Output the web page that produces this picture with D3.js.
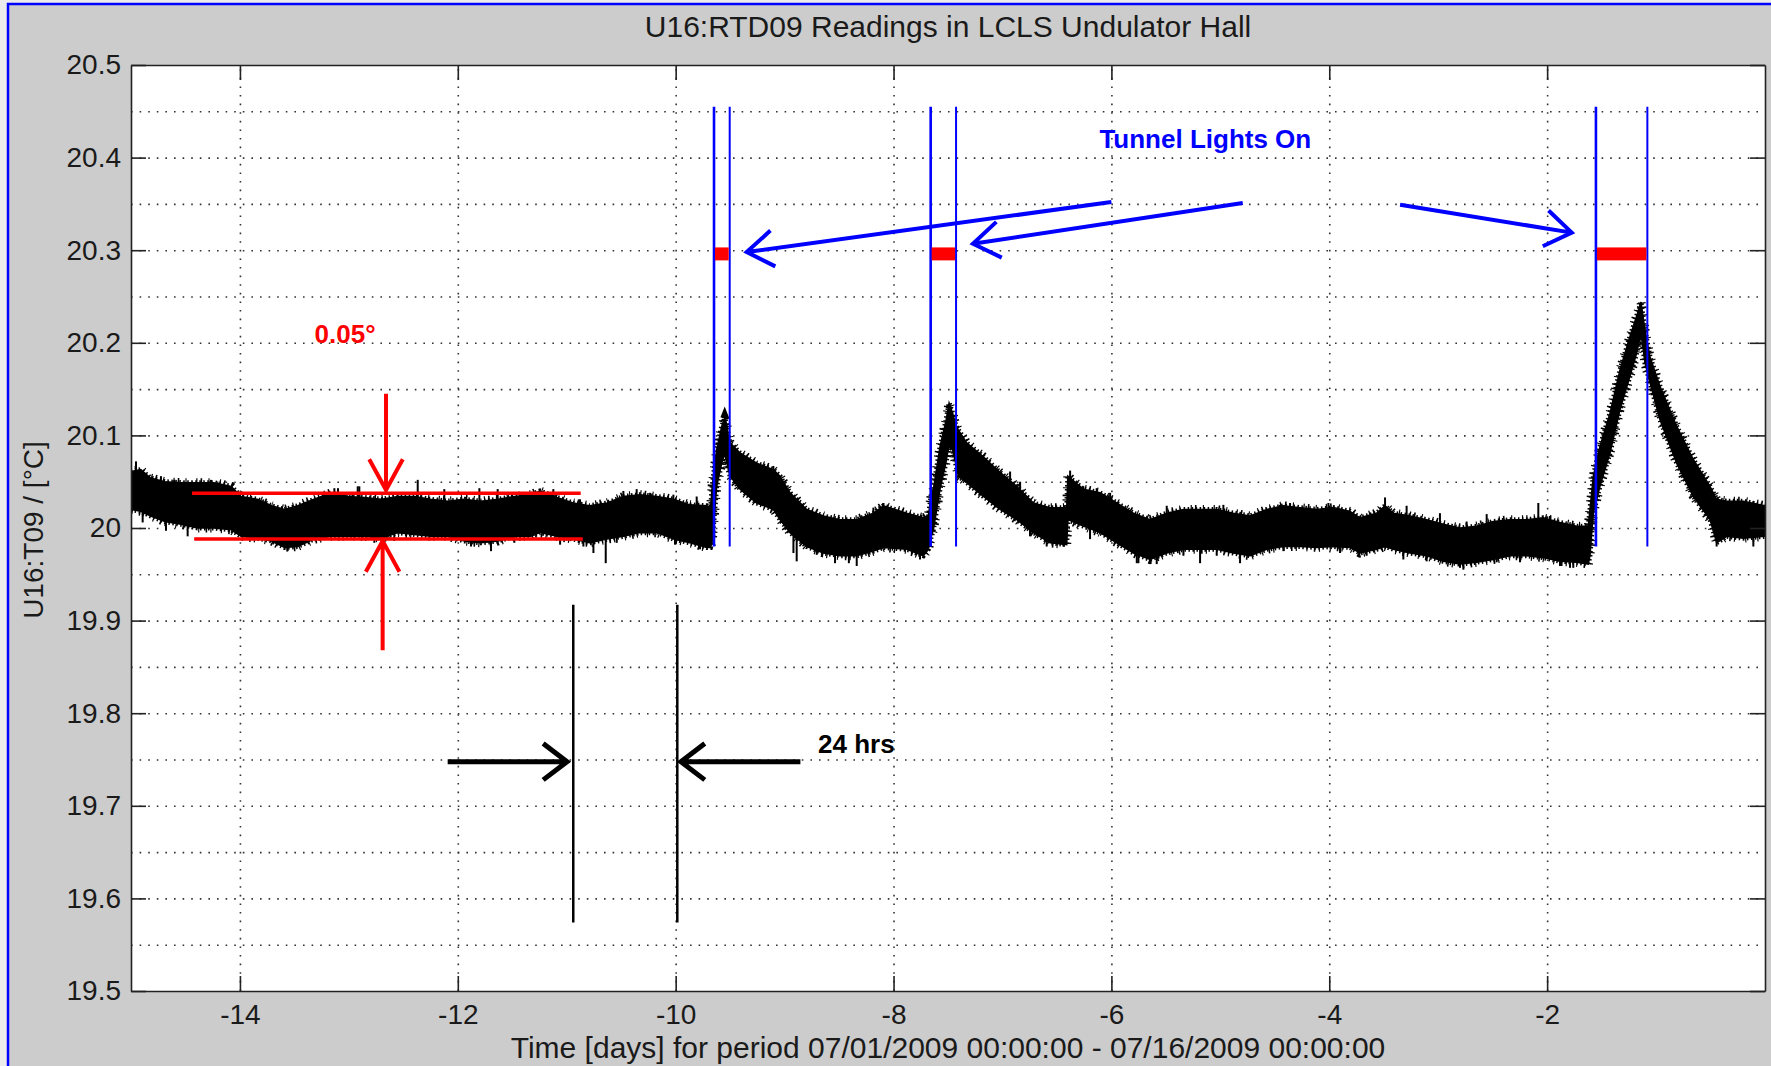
<!DOCTYPE html>
<html>
<head>
<meta charset="utf-8">
<script src="https://cdn.jsdelivr.net/npm/d3@7"></script>
<style>
  body { margin: 0; background: #ececec; }
  text { font-family: "Liberation Sans", Arial, sans-serif; }
</style>
</head>
<body>
<div id="chart"></div>
<script>
// axis ticks
var xTickValues = [-14, -12, -10, -8, -6, -4, -2];
var xTickLabels = ['-14', '-12', '-10', '-8', '-6', '-4', '-2'];
var yTickValues = [19.5, 19.6, 19.7, 19.8, 19.9, 20, 20.1, 20.2, 20.3, 20.4, 20.5];
var yTickLabels = ['19.5', '19.6', '19.7', '19.8', '19.9', '20', '20.1', '20.2', '20.3', '20.4', '20.5'];
var yGridValues = [19.55, 19.6, 19.65, 19.7, 19.75, 19.8, 19.85, 19.9, 19.95, 20, 20.05,
                   20.1, 20.15, 20.2, 20.25, 20.3, 20.35, 20.4, 20.45];

// U16:T09 trace, read as the top and bottom edge of the noisy band
var traceDays = [-15.0, -14.91, -14.82, -14.69, -14.54, -14.39, -14.24, -14.08, -13.99, -13.84,
  -13.71, -13.59, -13.47, -13.32, -13.16, -13.01, -12.86, -12.70, -12.55, -12.40,
  -12.25, -12.09, -11.94, -11.79, -11.63, -11.48, -11.33, -11.245, -11.09, -10.94,
  -10.79, -10.63, -10.48, -10.33, -10.17, -10.02, -9.87, -9.715, -9.68, -9.665,
  -9.623, -9.577, -9.55, -9.53, -9.515, -9.50, -9.409, -9.256, -9.103, -9.042,
  -8.95, -8.797, -8.644, -8.491, -8.338, -8.185, -8.093, -7.879, -7.726, -7.68,
  -7.655, -7.634, -7.573, -7.52, -7.49, -7.46, -7.43, -7.405, -7.328, -7.175,
  -7.022, -6.869, -6.716, -6.563, -6.41, -6.40, -6.257, -6.104, -5.951, -5.798,
  -5.645, -5.492, -5.339, -5.186, -5.033, -4.88, -4.727, -4.574, -4.421, -4.268,
  -4.115, -3.962, -3.809, -3.718, -3.565, -3.488, -3.412, -3.259, -3.106, -2.953,
  -2.80, -2.647, -2.494, -2.341, -2.188, -2.035, -1.882, -1.729, -1.622, -1.607,
  -1.576, -1.515, -1.423, -1.331, -1.239, -1.178, -1.138, -1.102, -1.056, -0.964,
  -0.811, -0.658, -0.505, -0.444, -0.352, -0.199, 0.0];
var traceTop = [20.061, 20.063, 20.054, 20.050, 20.049, 20.049, 20.049, 20.045, 20.034, 20.031,
  20.024, 20.020, 20.024, 20.031, 20.038, 20.034, 20.033, 20.031, 20.034, 20.034,
  20.031, 20.029, 20.031, 20.029, 20.031, 20.034, 20.036, 20.040, 20.033, 20.027,
  20.024, 20.027, 20.034, 20.036, 20.034, 20.031, 20.025, 20.024, 20.020, 20.045,
  20.085, 20.110, 20.118, 20.112, 20.098, 20.092, 20.081, 20.070, 20.063, 20.056,
  20.038, 20.020, 20.013, 20.009, 20.009, 20.016, 20.024, 20.016, 20.011, 20.013,
  20.035, 20.042, 20.088, 20.115, 20.135, 20.125, 20.112, 20.106, 20.092, 20.077,
  20.060, 20.045, 20.027, 20.022, 20.022, 20.056, 20.042, 20.038, 20.027, 20.016,
  20.009, 20.016, 20.020, 20.020, 20.020, 20.016, 20.013, 20.020, 20.024, 20.022,
  20.020, 20.022, 20.018, 20.011, 20.016, 20.024, 20.016, 20.013, 20.009, 20.004,
  20.000, 20.002, 20.007, 20.009, 20.009, 20.011, 20.006, 20.002, 20.002, 20.020,
  20.056, 20.088, 20.124, 20.171, 20.207, 20.229, 20.244, 20.214, 20.185, 20.153,
  20.110, 20.074, 20.045, 20.031, 20.029, 20.029, 20.024];
var traceBottom = [20.020, 20.018, 20.013, 20.007, 20.004, 20.000, 20.000, 19.998, 19.991, 19.989,
  19.986, 19.979, 19.980, 19.988, 19.991, 19.991, 19.991, 19.989, 19.995, 19.993,
  19.991, 19.991, 19.986, 19.984, 19.986, 19.991, 19.991, 19.995, 19.991, 19.988,
  19.984, 19.988, 19.991, 19.995, 19.995, 19.988, 19.984, 19.979, 19.979, 19.985,
  20.045, 20.070, 20.080, 20.070, 20.062, 20.056, 20.042, 20.027, 20.020, 20.009,
  19.995, 19.980, 19.973, 19.970, 19.970, 19.975, 19.979, 19.977, 19.970, 19.977,
  19.990, 19.998, 20.042, 20.070, 20.090, 20.085, 20.070, 20.056, 20.049, 20.034,
  20.020, 20.009, 19.995, 19.984, 19.982, 20.009, 20.002, 19.995, 19.984, 19.973,
  19.966, 19.973, 19.977, 19.977, 19.977, 19.973, 19.970, 19.977, 19.980, 19.980,
  19.979, 19.980, 19.979, 19.973, 19.977, 19.980, 19.977, 19.973, 19.970, 19.964,
  19.961, 19.963, 19.966, 19.970, 19.970, 19.968, 19.964, 19.963, 19.961, 19.970,
  20.016, 20.045, 20.081, 20.128, 20.164, 20.189, 20.211, 20.178, 20.157, 20.117,
  20.070, 20.034, 20.009, 19.984, 19.991, 19.989, 19.991];

// single noise spikes sticking out of the band
var spikeDays = [-14.954, -14.893, -14.725, -14.679, -14.602, -14.48, -14.266, -13.684, -13.562, -13.133,
  -13.10, -12.919, -12.904, -12.766, -12.583, -12.368, -12.124, -11.879, -11.802, -11.695,
  -11.634, -11.481, -11.389, -11.123, -11.061, -10.878, -10.847, -10.755, -10.642, -10.541,
  -10.48, -10.358, -10.235, -10.021, -10.006, -9.807, -9.776, -9.348, -9.103, -8.919,
  -8.889, -8.736, -8.705, -8.537, -8.41, -8.338, -8.185, -8.093, -7.757, -7.053,
  -6.93, -6.838, -6.747, -6.685, -6.594, -6.441, -6.379, -6.257, -6.196, -6.135,
  -6.012, -5.767, -5.752, -5.645, -5.584, -5.492, -5.339, -5.186, -5.033, -4.972,
  -4.819, -4.452, -4.421, -4.36, -4.008, -3.901, -3.657, -3.488, -3.32, -3.29,
  -3.106, -2.984, -2.8, -2.769, -2.739, -2.555, -2.463, -2.249, -2.188, -2.081,
  -1.974, -1.882, -1.79, -1.76, -0.444, -0.107, -0.107];
var spikeTips = [20.072, 20.006, 20.056, 19.997, 20.052, 19.991, 20.052, 19.984, 19.975, 20.043,
  20.043, 20.045, 20.045, 19.984, 19.986, 20.052, 20.042, 19.980, 20.043, 19.975,
  20.042, 19.984, 20.039, 20.042, 19.982, 20.031, 19.980, 19.973, 19.962, 19.984,
  20.040, 20.042, 20.038, 20.036, 19.982, 20.034, 19.977, 20.074, 20.067, 19.973,
  19.964, 20.016, 19.971, 19.962, 19.962, 19.959, 20.022, 20.027, 19.966, 20.065,
  20.061, 20.050, 19.991, 20.025, 19.980, 19.980, 20.062, 20.045, 19.988, 20.043,
  20.038, 19.962, 19.962, 19.962, 19.961, 20.024, 19.970, 19.962, 19.970, 20.025,
  19.962, 20.025, 19.975, 20.027, 20.027, 19.973, 19.970, 20.033, 19.966, 20.024,
  19.964, 20.016, 19.957, 19.955, 20.007, 20.015, 19.963, 19.963, 20.009, 20.027,
  20.013, 19.959, 19.957, 19.957, 19.980, 20.029, 19.980];

// "Tunnel Lights On" annotations
var lightsOn  = [-9.648, -7.659, -1.552];
var lightsOff = [-9.504, -7.426, -1.080];
var lightsLineRange = [19.98, 20.455];
var lightsBarRange  = [20.289, 20.303];
var lightsArrowFrom = [[-6.0, 20.352], [-4.794, 20.351], [-3.35, 20.349]];
var lightsArrowTo   = [[-9.348, 20.298], [-7.271, 20.307], [-1.774, 20.319]];
var lightsLabel = [-6.11, 20.41];

// 0.05 degree band annotation
var bandLevels = [20.0376, 19.988];
var bandFrom   = [-14.44, -14.42];
var bandTo     = [-10.872, -10.853];
var bandArrowFrom = [[-12.659, 20.145], [-12.69, 19.868]];
var bandArrowTo   = [[-12.659, 20.041], [-12.69, 19.986]];
var bandLabel = [-13.035, 20.200];

// 24 hrs annotation
var dayMarks = [-10.94, -9.985];
var dayMarkRange = [19.574, 19.917];
var dayArrowFrom = [[-12.093, 19.7476], [-8.855, 19.7476]];
var dayArrowTo   = [[-10.997, 19.7476], [-9.952, 19.7476]];
var dayLabel = [-8.693, 19.757];

var W = 1771, H = 1066;
var margin = { top: 65, right: 6, bottom: 74, left: 131 };
var width  = W - margin.left - margin.right;
var height = H - margin.top - margin.bottom - 1;

var svg = d3.select('#chart')
            .append('svg')
            .attr('width', W)
            .attr('height', H)
            .style('display', 'block');

// figure background with the blue frame
svg.append('rect')
   .attr('x', 8).attr('y', 4)
   .attr('width', W).attr('height', H)
   .attr('fill', '#cccccc')
   .attr('stroke', '#0000ff')
   .attr('stroke-width', 2.5);

var g = svg.append('g')
           .attr('transform', 'translate(' + margin.left + ',' + margin.top + ')');

var xScale = d3.scaleLinear().domain([-15, 0]).range([0, width]);
var yScale = d3.scaleLinear().domain([19.5, 20.5]).range([height, 0]);

g.append('rect')
 .attr('width', width).attr('height', height)
 .attr('fill', '#ffffff');

// dotted grid
var xGrid = d3.axisBottom(xScale).tickValues(xTickValues).tickSize(-height).tickFormat('');
var yGrid = d3.axisLeft(yScale).tickValues(yGridValues).tickSize(-width).tickFormat('');

g.append('g').attr('transform', 'translate(0,' + height + ')').call(xGrid)
 .call(function (s) { s.select('.domain').remove(); });
g.append('g').call(yGrid)
 .call(function (s) { s.select('.domain').remove(); });
g.selectAll('.tick line')
 .attr('stroke', '#333')
 .attr('stroke-width', 1.6)
 .attr('stroke-dasharray', '1.6,7');

// trace band
var rows = traceDays.map(function (d, i) { return { x: d, top: traceTop[i], bottom: traceBottom[i] }; });
var band = d3.area()
             .x(function (d) { return xScale(d.x); })
             .y0(function (d) { return yScale(d.bottom); })
             .y1(function (d) { return yScale(d.top); });

var clip = g.append('clipPath').attr('id', 'plotArea');
clip.append('rect').attr('width', width).attr('height', height);

var trace = g.append('g').attr('clip-path', 'url(#plotArea)');

trace.append('path')
     .datum(rows)
     .attr('d', band)
     .attr('fill', '#000')
     .attr('stroke', '#000')
     .attr('stroke-width', 1.5);

// fuzzy edge so the band reads as a noisy trace
trace.append('path')
     .datum(rows)
     .attr('d', band)
     .attr('fill', 'none')
     .attr('stroke', '#000')
     .attr('stroke-width', 5)
     .attr('stroke-dasharray', '1.5,2.5');

trace.append('path')
     .datum(rows)
     .attr('d', band)
     .attr('fill', 'none')
     .attr('stroke', '#000')
     .attr('stroke-width', 9)
     .attr('stroke-dasharray', '1.2,3.1,1.6,6.3,1.1,9.7');

var bisect = d3.bisector(function (d) { return d; }).left;
function bandMid (day)
{
    var i = Math.max(1, Math.min(traceDays.length - 1, bisect(traceDays, day)));
    var t = (day - traceDays[i - 1]) / (traceDays[i] - traceDays[i - 1]);
    var top = traceTop[i - 1] + t * (traceTop[i] - traceTop[i - 1]);
    var bot = traceBottom[i - 1] + t * (traceBottom[i] - traceBottom[i - 1]);
    return (top + bot) / 2;
}

trace.selectAll('.spike')
     .data(spikeDays)
     .enter().append('line')
     .attr('class', 'spike')
     .attr('x1', function (d) { return xScale(d); })
     .attr('x2', function (d) { return xScale(d); })
     .attr('y1', function (d) { return yScale(bandMid(d)); })
     .attr('y2', function (d, i) { return yScale(spikeTips[i]); })
     .attr('stroke', '#000')
     .attr('stroke-width', 2);

// arrow helper: shaft plus open chevron head at the "to" end
function arrowPath (from, to, len, ang)
{
    var x0 = xScale(from[0]), y0 = yScale(from[1]);
    var x1 = xScale(to[0]),   y1 = yScale(to[1]);
    var a  = Math.atan2(y0 - y1, x0 - x1);
    var p1 = [x1 + len * Math.cos(a + ang), y1 + len * Math.sin(a + ang)];
    var p2 = [x1 + len * Math.cos(a - ang), y1 + len * Math.sin(a - ang)];
    return 'M' + x0 + ',' + y0 + 'L' + x1 + ',' + y1 +
           'M' + p1[0] + ',' + p1[1] + 'L' + x1 + ',' + y1 + 'L' + p2[0] + ',' + p2[1];
}

// tunnel lights on
var lightDays = lightsOn.concat(lightsOff);
g.selectAll('.lightLine')
 .data(lightDays)
 .enter().append('line')
 .attr('class', 'lightLine')
 .attr('x1', function (d) { return xScale(d); })
 .attr('x2', function (d) { return xScale(d); })
 .attr('y1', yScale(lightsLineRange[0]))
 .attr('y2', yScale(lightsLineRange[1]))
 .attr('stroke', '#0000ff')
 .attr('stroke-width', function (d, i) { return i < 3 ? 2.6 : 2; });

g.selectAll('.lightBar')
 .data(lightsOn)
 .enter().append('rect')
 .attr('class', 'lightBar')
 .attr('x', function (d) { return xScale(d) + 1; })
 .attr('width', function (d, i) { return xScale(lightsOff[i]) - xScale(d) - 2; })
 .attr('y', yScale(lightsBarRange[1]))
 .attr('height', yScale(lightsBarRange[0]) - yScale(lightsBarRange[1]))
 .attr('fill', '#ff0000');

g.selectAll('.lightArrow')
 .data(lightsArrowFrom)
 .enter().append('path')
 .attr('class', 'lightArrow')
 .attr('d', function (d, i) { return arrowPath(d, lightsArrowTo[i], 32, 0.6); })
 .attr('fill', 'none')
 .attr('stroke', '#0000ff')
 .attr('stroke-width', 4);

g.append('text')
 .attr('x', xScale(lightsLabel[0]))
 .attr('y', yScale(lightsLabel[1]))
 .attr('fill', '#0000ff')
 .style('font-size', '26px')
 .style('font-weight', 'bold')
 .text('Tunnel Lights On');

// 0.05 degree band
g.selectAll('.bandLine')
 .data(bandLevels)
 .enter().append('line')
 .attr('class', 'bandLine')
 .attr('x1', function (d, i) { return xScale(bandFrom[i]); })
 .attr('x2', function (d, i) { return xScale(bandTo[i]); })
 .attr('y1', function (d) { return yScale(d); })
 .attr('y2', function (d) { return yScale(d); })
 .attr('stroke', '#ff0000')
 .attr('stroke-width', 3.5);

g.selectAll('.bandArrow')
 .data(bandArrowFrom)
 .enter().append('path')
 .attr('class', 'bandArrow')
 .attr('d', function (d, i) { return arrowPath(d, bandArrowTo[i], 35, 0.5); })
 .attr('fill', 'none')
 .attr('stroke', '#ff0000')
 .attr('stroke-width', 4);

g.append('text')
 .attr('x', xScale(bandLabel[0]))
 .attr('y', yScale(bandLabel[1]))
 .attr('text-anchor', 'middle')
 .attr('fill', '#ff0000')
 .style('font-size', '26px')
 .style('font-weight', 'bold')
 .text('0.05°');

// 24 hrs
g.selectAll('.dayMark')
 .data(dayMarks)
 .enter().append('line')
 .attr('class', 'dayMark')
 .attr('x1', function (d) { return xScale(d); })
 .attr('x2', function (d) { return xScale(d); })
 .attr('y1', yScale(dayMarkRange[0]))
 .attr('y2', yScale(dayMarkRange[1]))
 .attr('stroke', '#000')
 .attr('stroke-width', 2.5);

g.selectAll('.dayArrow')
 .data(dayArrowFrom)
 .enter().append('path')
 .attr('class', 'dayArrow')
 .attr('d', function (d, i) { return arrowPath(d, dayArrowTo[i], 30, 0.65); })
 .attr('fill', 'none')
 .attr('stroke', '#000')
 .attr('stroke-width', 5);

g.append('text')
 .attr('x', xScale(dayLabel[0]))
 .attr('y', yScale(dayLabel[1]))
 .attr('fill', '#000')
 .style('font-size', '26px')
 .style('font-weight', 'bold')
 .text('24 hrs');

// axes with inward ticks on all four sides
var fmtX = function (d) { return xTickLabels[xTickValues.indexOf(d)]; };
var fmtY = function (d) { return yTickLabels[yTickValues.indexOf(d)]; };

var xAxis  = d3.axisBottom(xScale).tickValues(xTickValues).tickSizeInner(-15).tickSizeOuter(0).tickPadding(13).tickFormat(fmtX);
var xTop   = d3.axisTop(xScale).tickValues(xTickValues).tickSizeInner(-15).tickSizeOuter(0).tickFormat('');
var yAxis  = d3.axisLeft(yScale).tickValues(yTickValues).tickSizeInner(-15).tickSizeOuter(0).tickPadding(10).tickFormat(fmtY);
var yRight = d3.axisRight(yScale).tickValues(yTickValues).tickSizeInner(-15).tickSizeOuter(0).tickFormat('');

var axes = g.append('g').attr('class', 'axes');
axes.append('g').attr('transform', 'translate(0,' + height + ')').call(xAxis);
axes.append('g').call(xTop);
axes.append('g').call(yAxis);
axes.append('g').attr('transform', 'translate(' + width + ',0)').call(yRight);

axes.selectAll('.domain').attr('stroke', '#222').attr('stroke-width', 1.6);
axes.selectAll('.tick line').attr('stroke', '#222').attr('stroke-width', 1.6);
axes.selectAll('.tick text')
    .attr('fill', '#1a1a1a')
    .style('font-size', '28px')
    .style('font-family', '"Liberation Sans", Arial, sans-serif');

// title and labels
svg.append('text')
   .attr('x', margin.left + width / 2)
   .attr('y', 37)
   .attr('text-anchor', 'middle')
   .attr('fill', '#1a1a1a')
   .style('font-size', '30px')
   .text('U16:RTD09 Readings in LCLS Undulator Hall');

svg.append('text')
   .attr('x', margin.left + width / 2)
   .attr('y', 1058)
   .attr('text-anchor', 'middle')
   .attr('fill', '#1a1a1a')
   .style('font-size', '30px')
   .text('Time [days] for period 07/01/2009 00:00:00 - 07/16/2009 00:00:00');

svg.append('text')
   .attr('transform', 'translate(43,' + (margin.top + height / 2 + 2) + ') rotate(-90)')
   .attr('text-anchor', 'middle')
   .attr('fill', '#1a1a1a')
   .style('font-size', '28px')
   .text('U16:T09 / [°C]');
</script>
</body>
</html>
